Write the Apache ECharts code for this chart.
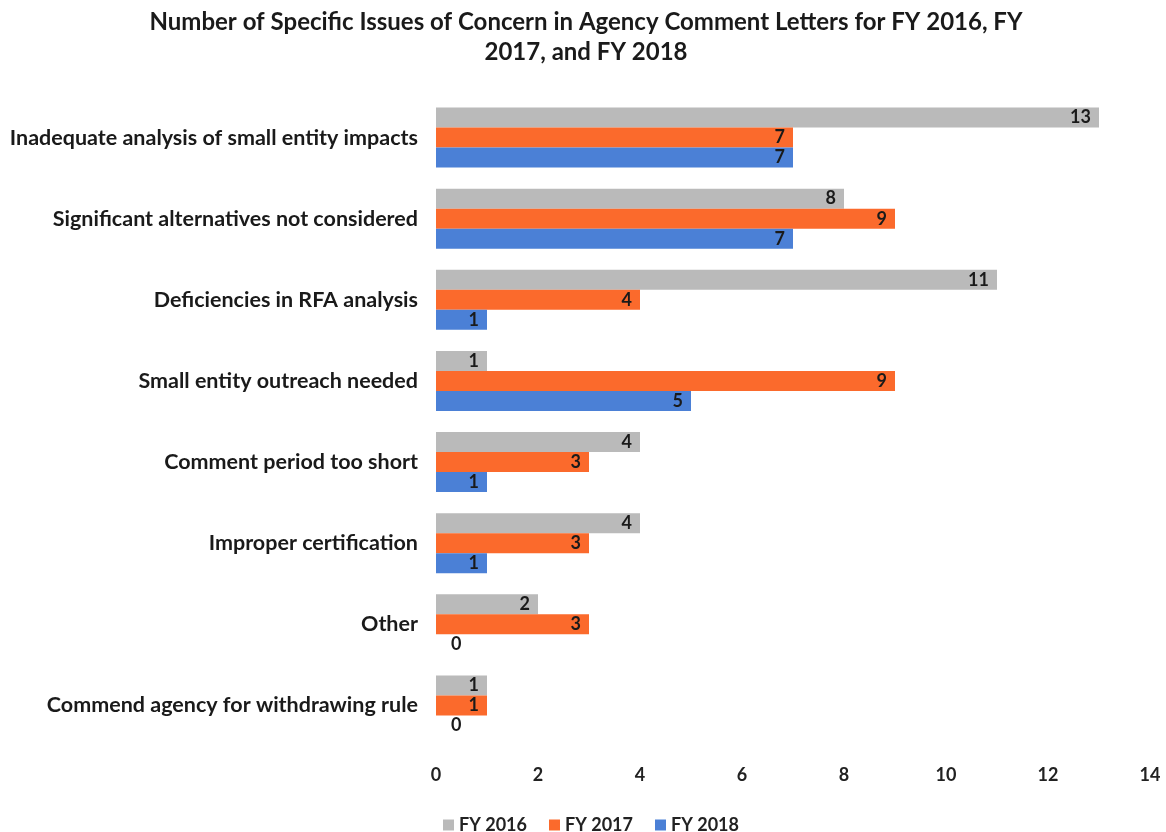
<!DOCTYPE html>
<html>
<head>
<meta charset="utf-8">
<script src="https://cdn.jsdelivr.net/npm/echarts@6/dist/echarts.min.js"></script>
<style>
	html, body { margin: 0; padding: 0; background: #fff; }
	#main { width: 1166px; height: 832px; }
</style>
</head>
<body>
<div id="main"></div>
<script>
	"use strict";
	var categories = [
		'Inadequate analysis of small entity impacts',
		'Significant alternatives not considered',
		'Deficiencies in RFA analysis',
		'Small entity outreach needed',
		'Comment period too short',
		'Improper certification',
		'Other',
		'Commend agency for withdrawing rule'
	];
	var fy2016 = [13, 8, 11, 1, 4, 4, 2, 1];
	var fy2017 = [7, 9, 4, 9, 3, 3, 3, 1];
	var fy2018 = [7, 7, 1, 5, 1, 1, 0, 0];
	var xTicks = [0, 2, 4, 6, 8, 10, 12, 14];

	var font = 'Lato';

	// zero values get their label beside the axis instead of inside the bar
	function toData(values) {
		return values.map(function(v) {
			if (v === 0) {
				return {
					value: v,
					label: { position: 'right', distance: 15 }
				};
			}
			return v;
		});
	}

	function makeSeries(name, values, color) {
		return {
			name: name,
			type: 'bar',
			data: toData(values),
			barGap: '0%',
			barCategoryGap: '26%',
			itemStyle: { color: color },
			label: {
				show: true,
				position: 'insideRight',
				distance: 8,
				color: '#1a1a1a',
				fontFamily: font,
				fontWeight: 'bold',
				fontSize: 18
			}
		};
	}

	var chart = echarts.init(document.getElementById('main'));
	var option = {
		animation: false,
		textStyle: { fontFamily: font },
		title: {
			text: 'Number of Specific Issues of Concern in Agency Comment Letters for FY 2016, FY\n2017, and FY 2018',
			left: 581,
			top: 2,
			textAlign: 'center',
			textStyle: {
				fontFamily: font,
				fontWeight: 'bold',
				fontSize: 24,
				lineHeight: 30,
				color: '#1a1a1a'
			}
		},
		legend: {
			top: 811,
			left: 438,
			itemWidth: 11,
			itemHeight: 11,
			itemGap: 22,
			icon: 'rect',
			textStyle: {
				fontFamily: font,
				fontWeight: 'bold',
				fontSize: 18,
				color: '#222'
			},
			data: ['FY 2016', 'FY 2017', 'FY 2018']
		},
		grid: {
			left: 436,
			right: 16,
			top: 97,
			bottom: 86,
			containLabel: false
		},
		xAxis: {
			type: 'value',
			min: xTicks[0],
			max: xTicks[xTicks.length - 1],
			interval: 2,
			splitLine: { show: false },
			axisLine: { show: false },
			axisTick: { show: false },
			axisLabel: {
				margin: 20,
				fontFamily: font,
				fontWeight: 'bold',
				fontSize: 18,
				color: '#222'
			}
		},
		yAxis: {
			type: 'category',
			inverse: true,
			data: categories,
			axisLine: { show: false },
			axisTick: { show: false },
			axisLabel: {
				margin: 18,
				fontFamily: font,
				fontWeight: 'bold',
				fontSize: 21.5,
				color: '#1a1a1a'
			}
		},
		series: [
			makeSeries('FY 2016', fy2016, '#bababa'),
			makeSeries('FY 2017', fy2017, '#fb6a2c'),
			makeSeries('FY 2018', fy2018, '#4b80d6')
		]
	};
	chart.setOption(option);
</script>
</body>
</html>
